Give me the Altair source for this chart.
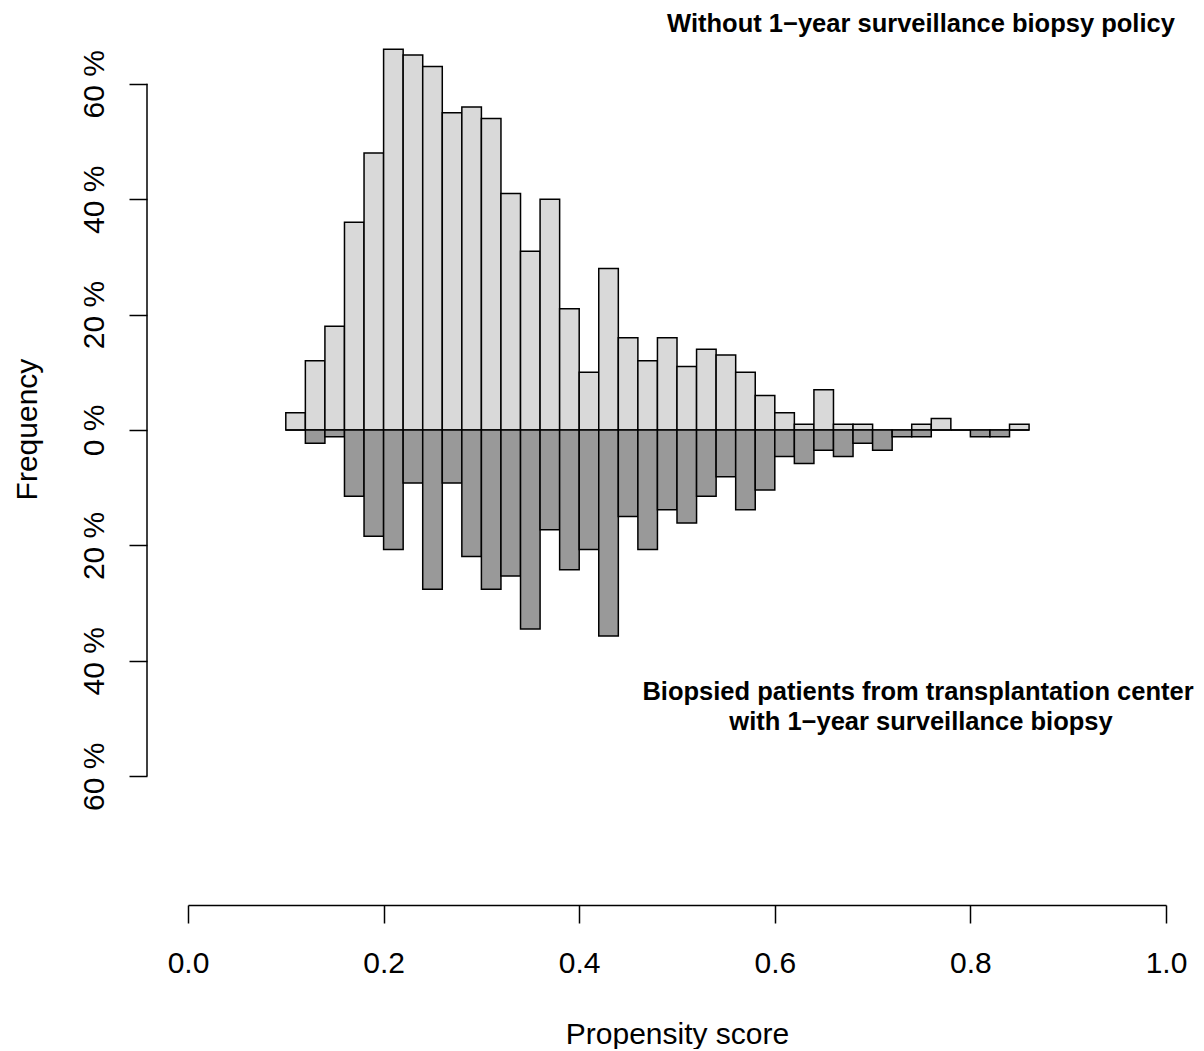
import altair as alt
import pandas as pd

# ---- data ----
bin_edges = [0.10, 0.12, 0.14, 0.16, 0.18, 0.20, 0.22, 0.24, 0.26, 0.28,
             0.30, 0.32, 0.34, 0.36, 0.38, 0.40, 0.42, 0.44, 0.46, 0.48,
             0.50, 0.52, 0.54, 0.56, 0.58, 0.60, 0.62, 0.64, 0.66, 0.68,
             0.70, 0.72, 0.74, 0.76, 0.78, 0.80, 0.82, 0.84, 0.86]

top_pct = [3, 12, 18, 36, 48, 66, 65, 63, 55, 56,
           54, 41, 31, 40, 21, 10, 28, 16, 12, 16,
           11, 14, 13, 10, 6, 3, 1, 7, 1, 1,
           0, 0, 1, 2, 0, 0, 0, 1]

bottom_pct = [0, 2.3, 1.15, 11.5, 18.4, 20.7, 9.2, 27.6, 9.2, 21.9,
              27.6, 25.3, 34.5, 17.3, 24.2, 20.7, 35.7, 15.0, 20.7, 13.8,
              16.1, 11.5, 8.1, 13.8, 10.4, 4.6, 5.8, 3.5, 4.6, 2.3,
              3.5, 1.15, 1.15, 0, 0, 1.15, 1.15, 0]

y_ticks = [-60, -40, -20, 0, 20, 40, 60]
x_ticks = [0.0, 0.2, 0.4, 0.6, 0.8, 1.0]

label_top = "Without 1\u2212year surveillance biopsy policy"
label_bottom_1 = "Biopsied patients from transplantation center"
label_bottom_2 = "with 1\u2212year surveillance biopsy"

df = pd.DataFrame({
    "x0": bin_edges[:-1],
    "x1": bin_edges[1:],
    "top": top_pct,
    "bottom": [-v for v in bottom_pct],
})
axis_df = pd.DataFrame({"lo": [min(y_ticks)], "hi": [max(y_ticks)]})

FONT = "Liberation Sans"

xscale = alt.Scale(domain=[0, 1], nice=False, zero=False)
yscale = alt.Scale(domain=[-82.32, 71.06], nice=False, zero=False)

xaxis = alt.Axis(
    values=x_ticks, format=".1f", title="Propensity score", grid=False,
    domainColor="black", domainWidth=1.5, tickColor="black", tickWidth=1.5,
    tickSize=18, labelFont=FONT, labelFontSize=30, labelColor="black",
    labelPadding=25, labelFlush=False, labelOverlap=False,
    titleFont=FONT, titleFontSize=30, titleFontWeight="normal",
    titleColor="black", titleBaseline="alphabetic", titleY=138,
)

yaxis = alt.Axis(
    values=y_ticks, labelExpr="abs(datum.value) + ' %'", title="Frequency",
    grid=False, domain=False, offset=41, tickColor="black", tickWidth=1.5,
    tickSize=18, labelFont=FONT, labelFontSize=30, labelColor="black",
    labelAngle=270, labelAlign="center", labelBaseline="alphabetic",
    labelPadding=26, labelOverlap=False, labelFlush=False,
    titleFont=FONT, titleFontSize=30, titleFontWeight="normal",
    titleColor="black", titleAngle=270, titleAlign="center",
    titleBaseline="alphabetic", titleX=-111, titleY=409,
)

base = alt.Chart(df)

bottom_bars = base.mark_rect(fill="#999999", stroke="black", strokeWidth=1.5).encode(
    x=alt.X("x0:Q", scale=xscale, axis=xaxis),
    x2="x1:Q",
    y=alt.Y("bottom:Q", scale=yscale, axis=yaxis),
    y2=alt.datum(0),
)

top_bars = base.mark_rect(fill="#d9d9d9", stroke="black", strokeWidth=1.5).encode(
    x=alt.X("x0:Q", scale=xscale, axis=xaxis),
    x2="x1:Q",
    y=alt.Y("top:Q", scale=yscale, axis=yaxis),
    y2=alt.datum(0),
)

y_domain_line = alt.Chart(axis_df).mark_rule(color="black", strokeWidth=1.5).encode(
    x=alt.value(-41),
    y=alt.Y("lo:Q", scale=yscale, axis=yaxis),
    y2="hi:Q",
)

def annot(text, px, py):
    return alt.Chart(pd.DataFrame({"t": [text]})).mark_text(
        font=FONT, fontSize=25.5, fontWeight="bold", color="black",
        align="center", baseline="middle",
    ).encode(text="t:N", x=alt.value(px), y=alt.value(py))

chart = alt.layer(
    top_bars,
    bottom_bars,
    y_domain_line,
    annot(label_top, 733, 4),
    annot(label_bottom_1, 730, 672),
    annot(label_bottom_2, 733, 702),
).properties(
    width=978,
    height=885,
    padding={"left": 180, "top": 12, "right": 30, "bottom": 144},
    autosize=alt.AutoSizeParams(type="none"),
    background="white",
).configure_view(stroke=None)

chart.save("out.html", embed_options={"renderer": "svg", "actions": False})
